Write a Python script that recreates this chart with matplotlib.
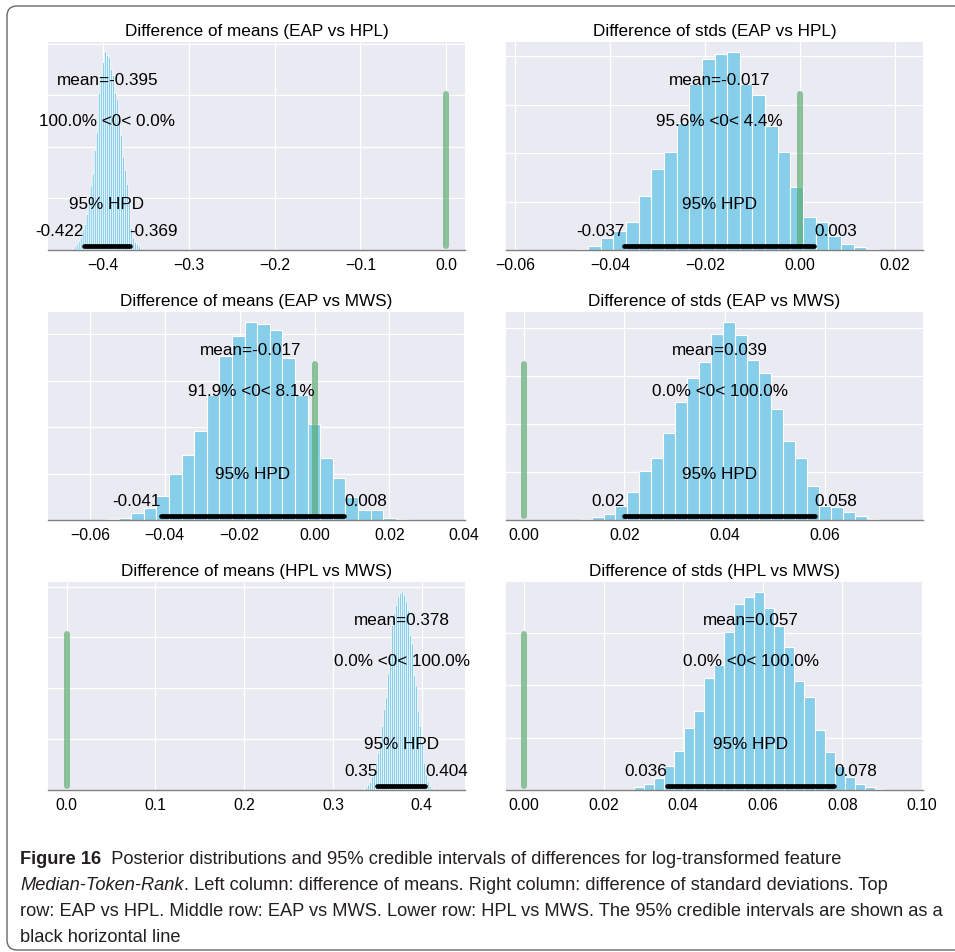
import numpy as np
import matplotlib
matplotlib.use('Agg')
import matplotlib.pyplot as plt
import seaborn as sns
from matplotlib import font_manager
from matplotlib.patches import FancyBboxPatch
from matplotlib.transforms import IdentityTransform
from matplotlib.ticker import MultipleLocator

sns.set_style('darkgrid')
plt.rcParams['font.family'] = ['Liberation Sans', 'DejaVu Sans']

W, H = 955, 953

# posterior summaries (row-major: means | stds)
titles = ['Difference of means (EAP vs HPL)', 'Difference of stds (EAP vs HPL)',
          'Difference of means (EAP vs MWS)', 'Difference of stds (EAP vs MWS)',
          'Difference of means (HPL vs MWS)', 'Difference of stds (HPL vs MWS)']
post_mean = [-0.395, -0.017, -0.017, 0.039, 0.378, 0.057]
hpd_low = [-0.422, -0.037, -0.041, 0.02, 0.35, 0.036]
hpd_high = [-0.369, 0.003, 0.008, 0.058, 0.404, 0.078]
pct_below = [100.0, 95.6, 91.9, 0.0, 0.0, 0.0]
pct_above = [0.0, 4.4, 8.1, 100.0, 100.0, 100.0]
ref_val = 0

# histogram bins: left edge of first bin and bin width
bin_start = [-0.4358, -0.05004, -0.05572, 0.01104, 0.3344, 0.02754]
bin_width = [0.00234, 0.00267, 0.003367, 0.00239, 0.002248, 0.002526]

counts_means_eap_hpl = [30, 65, 110, 160, 240, 390, 490, 690, 880, 1240, 1470, 1930,
                        2270, 3040, 3370, 3630, 3840, 3770, 3730, 3500, 3380, 3040,
                        2910, 2450, 2220, 1800, 1540, 1270, 920, 420, 230, 150, 110,
                        65, 30]
counts_stds_eap_hpl = [8, 20, 77, 245, 385, 573, 1119, 1678, 2014, 2622, 3427, 3937,
                       4056, 4091, 3427, 3196, 2566, 2014, 1308, 678, 580, 287, 126,
                       63, 21]
counts_means_eap_mws = [29, 51, 159, 268, 522, 993, 1391, 1920, 2696, 3529, 3957, 4268,
                        4217, 4094, 3493, 2696, 2065, 1341, 906, 486, 217, 217, 51, 29]
counts_stds_eap_mws = [14, 56, 120, 282, 577, 1021, 1289, 1810, 2465, 2972, 3289, 3887,
                       4134, 3859, 3345, 3063, 2324, 1641, 1303, 704, 282, 261, 176,
                       77, 28]
counts_means_hpl_mws = [13, 53, 99, 145, 264, 363, 528, 726, 924, 1254, 1584, 1815,
                        2277, 2640, 3234, 3465, 3630, 3795, 3861, 3894, 3828, 3696,
                        3531, 3036, 2871, 2244, 2046, 1551, 1254, 924, 528, 297, 165,
                        66, 33, 13]
counts_stds_hpl_mws = [65, 116, 226, 452, 755, 1194, 1516, 2142, 2387, 3013, 3548, 3690,
                       3787, 3484, 3142, 2742, 2084, 1787, 1142, 723, 452, 239, 110,
                       58, 26]
all_counts = [counts_means_eap_hpl, counts_stds_eap_hpl, counts_means_eap_mws,
              counts_stds_eap_mws, counts_means_hpl_mws, counts_stds_hpl_mws]

# view limits per panel
x_limits = [(-0.464, 0.022), (-0.062, 0.026), (-0.0712, 0.0402),
            (-0.00365, 0.0796), (-0.021, 0.4488), (-0.0046, 0.1003)]
edge_lw = [0.5, 0.8, 0.8, 0.8, 0.5, 0.8]
snap_bars = [False, True, True, True, False, True]

text_size = 12.3

fig, axes = plt.subplots(3, 2, figsize=(W / 100, H / 100), dpi=100)
fig.subplots_adjust(left=48 / W, right=923 / W, top=1 - 43 / H, bottom=1 - 791 / H,
                    wspace=41 / 417, hspace=62 / 208)

for i, ax in enumerate(axes.flat):
    counts = np.array(all_counts[i])
    edges = bin_start[i] + bin_width[i] * np.arange(len(counts))
    ax.bar(edges, counts, width=bin_width[i], align='edge', color='#87ceeb',
           edgecolor='white', linewidth=edge_lw[i], snap=snap_bars[i])
    plot_height = ax.get_ylim()[1]

    # posterior mean
    ax.text(post_mean[i], plot_height * 0.8, 'mean={:g}'.format(post_mean[i]),
            size=text_size, ha='center', color='k')
    # reference value
    ax.axvline(ref_val, ymin=0.02, ymax=0.75, color='#55A868', linewidth=4.3,
               alpha=0.65, solid_capstyle='round')
    ax.text(post_mean[i], plot_height * 0.6,
            '{:.1f}% <{}< {:.1f}%'.format(pct_below[i], ref_val, pct_above[i]),
            size=text_size, ha='center', color='k')
    # HPD interval
    ax.plot([hpd_low[i], hpd_high[i]], [plot_height * 0.02] * 2, linewidth=3.4,
            color='k', solid_capstyle='round')
    ax.text(hpd_low[i], plot_height * 0.07, '{:g}'.format(hpd_low[i]),
            size=text_size, ha='right', color='k')
    ax.text(hpd_high[i], plot_height * 0.07, '{:g}'.format(hpd_high[i]),
            size=text_size, ha='left', color='k')
    ax.text((hpd_low[i] + hpd_high[i]) / 2, plot_height * 0.2, '95% HPD',
            size=text_size, ha='center', color='k')

    ax.set_ylim(0, plot_height)
    ax.set_xlim(*x_limits[i])
    ax.yaxis.set_major_locator(MultipleLocator(1000))
    ax.tick_params(axis='y', labelleft=False, length=0)
    ax.tick_params(axis='x', direction='out', width=1, length=3, color='0.5',
                   labelsize=11.3, labelcolor='k', pad=2)
    for side in ['top', 'right', 'left']:
        ax.spines[side].set_visible(False)
    ax.spines['bottom'].set_visible(True)
    ax.spines['bottom'].set_color('0.5')
    ax.spines['bottom'].set_linewidth(1)
    ax.grid(True, color='white', linewidth=0.9)
    ax.set_title(titles[i], fontsize=text_size, color='k', pad=5)

# frame around the figure
frame = FancyBboxPatch((7, 2), 975, 944, boxstyle='round,pad=0,rounding_size=10',
                       transform=IdentityTransform(), fill=False,
                       edgecolor='#666666', linewidth=1.0)
fig.patches.append(frame)

# caption
names = {f.name for f in font_manager.fontManager.ttflist}
cap_font = 'Liberation Sans Narrow' if 'Liberation Sans Narrow' in names else 'Liberation Sans'
cap_color = '#231f20'

caption_lines = [
    [('Figure 16', 'bold', 'normal'),
     ('  Posterior distributions and 95% credible intervals of differences for log-transformed feature', 'normal', 'normal')],
    [('Median-Token-Rank', 'normal', 'italic'),
     ('. Left column: difference of means. Right column: difference of standard deviations. Top', 'normal', 'normal')],
    [('row: EAP vs HPL. Middle row: EAP vs MWS. Lower row: HPL vs MWS. The 95% credible intervals are shown as a', 'normal', 'normal')],
    [('black horizontal line', 'normal', 'normal')],
]
baselines = [864, 890, 916, 942]

renderer = fig.canvas.get_renderer()
probe = fig.text(0, 0, caption_lines[2][0][0], fontsize=10, family=cap_font)
cap_size = 10 * 925 / probe.get_window_extent(renderer=renderer).width
probe.remove()

for pieces, base in zip(caption_lines, baselines):
    x = 20
    for s, weight, style in pieces:
        t = fig.text(x / W, 1 - base / H, s, fontsize=cap_size, family=cap_font,
                     fontweight=weight, fontstyle=style, color=cap_color,
                     va='baseline', ha='left')
        x += t.get_window_extent(renderer=renderer).width

fig.savefig('out.png', dpi=100, facecolor='white')
